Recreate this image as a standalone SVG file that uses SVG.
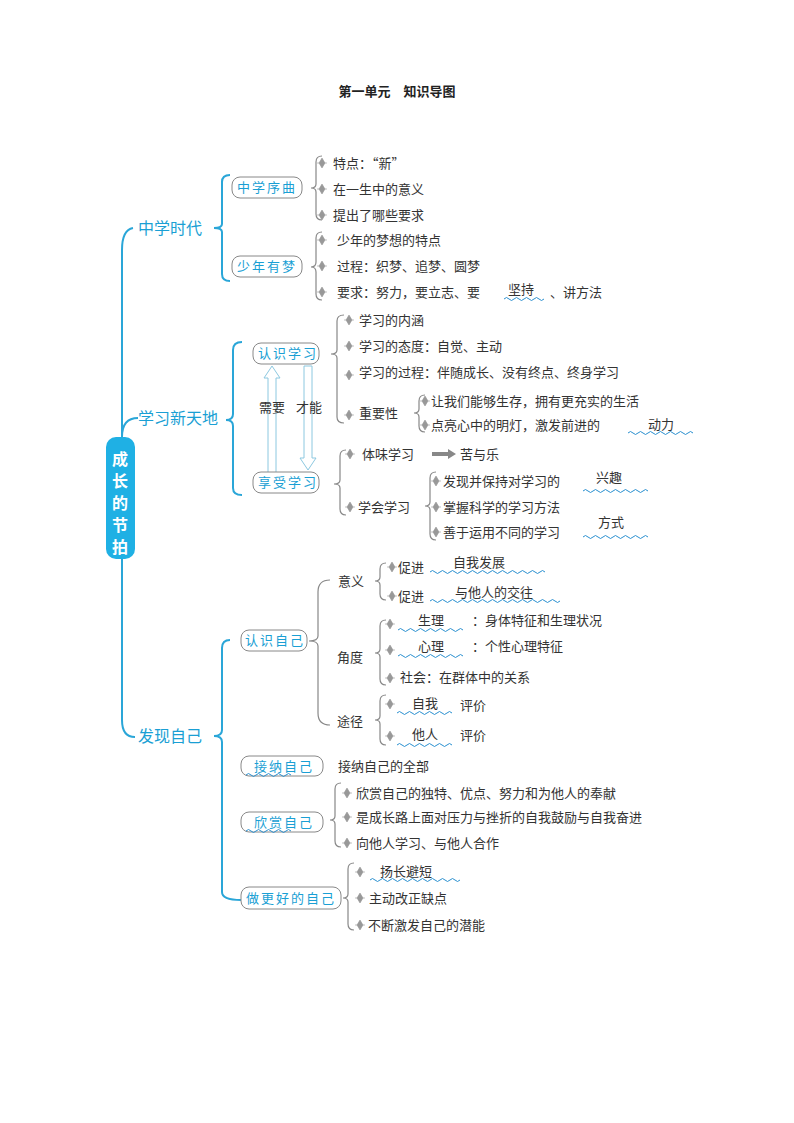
<svg xmlns="http://www.w3.org/2000/svg" width="794" height="1123" viewBox="0 0 794 1123">
<style>
text{font-family:"Noto Sans CJK SC","Noto Sans",sans-serif;font-size:13px;fill:#333}
.m{font-size:16px;fill:#1a9fd4}
.b{font-size:13px;fill:#1a9fd4;letter-spacing:2px}
.c{fill:#fff;font-size:16px;font-weight:bold}
.box{fill:#fff;stroke:#888;stroke-width:1}
.br{fill:none;stroke:#888;stroke-width:1.2}
.bb{fill:none;stroke:#2aa6d8;stroke-width:2}
.w{fill:none;stroke:#2a90d0;stroke-width:1}
</style>
<defs>
<path id="d" d="M0,-5 L3,0 0,5 -3,0Z M-5,0 L5,0" fill="#999" stroke="#999" stroke-width="0.6"/>
</defs>
<rect width="794" height="1123" fill="#fff"/>
<text x="397" y="96" text-anchor="middle" style="font-size:13px;font-weight:bold;fill:#222">第一单元　知识导图</text>

<g id="connectors">
<path class="bb" d="M133,228 Q122,230 122,250 L122,437 M122,437 Q122,418 138,418 M122,559 L122,720 Q122,737 135,737"/>
<path class="bb" d="M230,175 Q222,175 222,182 L222,224 Q222,228 214,228 Q222,228 222,232 L222,274 Q222,281 230,281"/>
<path class="bb" d="M242,342 Q233,342 233,350 L233,414 Q233,420 226,420 Q233,420 233,426 L233,488 Q233,495 242,495"/>
<path class="bb" d="M230,640 Q222,640 222,648 L222,730 Q222,736 214,736 Q222,736 222,742 L222,892 Q222,900 241,900"/>
<g class="br">
<path d="M322,156 Q316,156 316,162 L316,184 Q316,188 311,188 Q316,188 316,192 L316,214 Q316,220 322,220"/>
<path d="M322,232 Q316,232 316,238 L316,262 Q316,267 311,267 Q316,267 316,272 L316,294 Q316,300 322,300"/>
<path d="M344,315 Q337,315 337,321 L337,350 Q337,354 331,354 Q337,354 337,358 L337,417 Q337,423 344,423"/>
<path d="M425,395 Q419,395 419,401 L419,409 Q419,413 414,413 Q419,413 419,417 L419,426 Q419,432 425,432"/>
<path d="M346,450 Q340,450 340,456 L340,480 Q340,484 334,484 Q340,484 340,488 L340,509 Q340,515 346,515"/>
<path d="M436,472 Q430,472 430,478 L430,502 Q430,506 425,506 Q430,506 430,510 L430,534 Q430,540 436,540"/>
<path d="M330,580 Q318,580 318,592 L318,636 Q318,641 309,641 Q318,641 318,646 L318,713 Q318,725 330,725"/>
<path d="M386,563 Q380,563 380,569 L380,577 Q380,581 375,581 Q380,581 380,585 L380,594 Q380,600 386,600"/>
<path d="M386,620 Q380,620 380,626 L380,649 Q380,653 375,653 Q380,653 380,657 L380,679 Q380,685 386,685"/>
<path d="M386,695 Q380,695 380,701 L380,716 Q380,720 375,720 Q380,720 380,724 L380,739 Q380,745 386,745"/>
<path d="M341,783 Q335,783 335,789 L335,816 Q335,820 330,820 Q335,820 335,824 L335,841 Q335,847 341,847"/>
<path d="M354,863 Q348,863 348,869 L348,894 Q348,898 343,898 Q348,898 348,902 L348,924 Q348,930 354,930"/>
</g>
<path d="M268,478 L268,378 L264,378 L272,366 L280,378 L276,378 L276,478Z" fill="#fff" stroke="#8cc8e0" stroke-width="1"/>
<path d="M304,366 L304,458 L300,458 L308,470 L316,458 L312,458 L312,366Z" fill="#fff" stroke="#8cc8e0" stroke-width="1"/>
<path d="M432,452 L448,452 L448,449 L456,454 L448,459 L448,456 L432,456Z" fill="#888"/>
</g>
<text x="259" y="412">需要</text><text x="296" y="412">才能</text>

<g id="center">
<rect x="106" y="437" width="29" height="122" rx="10" fill="#1fb0e4"/>
<text class="c" x="120" y="465" text-anchor="middle">成</text>
<text class="c" x="120" y="487" text-anchor="middle">长</text>
<text class="c" x="120" y="509" text-anchor="middle">的</text>
<text class="c" x="120" y="531" text-anchor="middle">节</text>
<text class="c" x="120" y="553" text-anchor="middle">拍</text>
</g>

<g id="main">
<text class="m" x="138" y="234">中学时代</text>
<text class="m" x="138" y="424">学习新天地</text>
<text class="m" x="138" y="742">发现自己</text>
</g>

<g id="boxes">
<rect class="box" x="232" y="177" width="70" height="21" rx="8"/><text class="b" x="237" y="192">中学序曲</text>
<rect class="box" x="232" y="256" width="70" height="21" rx="8"/><text class="b" x="237" y="271">少年有梦</text>
<rect class="box" x="253" y="343" width="66" height="21" rx="8"/><text class="b" x="258" y="358">认识学习</text>
<rect class="box" x="253" y="472" width="66" height="21" rx="8"/><text class="b" x="258" y="487">享受学习</text>
<rect class="box" x="241" y="630" width="66" height="21" rx="8"/><text class="b" x="245" y="645">认识自己</text>
<rect class="box" x="241" y="756" width="82" height="20" rx="8"/><text class="b" x="254" y="771">接纳自己</text>
<rect class="box" x="241" y="812" width="82" height="20" rx="8"/><text class="b" x="254" y="827">欣赏自己</text>
<rect class="box" x="241" y="887" width="100" height="22" rx="8"/><text class="b" x="246" y="903">做更好的自己</text>
<path class="w" d="M246,775 q2.5,-3 5,0 t5,0 t5,0 t5,0 t5,0 t5,0 t5,0 t5,0 t5,0"/>
<path class="w" d="M246,831 q2.5,-3 5,0 t5,0 t5,0 t5,0 t5,0 t5,0 t5,0 t5,0 t5,0"/>
</g>

<g id="items">
<use href="#d" x="322" y="163"/><text x="333" y="168">特点：“新”</text>
<use href="#d" x="322" y="189"/><text x="333" y="194">在一生中的意义</text>
<use href="#d" x="322" y="215"/><text x="333" y="220">提出了哪些要求</text>
<use href="#d" x="322" y="240"/><text x="337" y="245">少年的梦想的特点</text>
<use href="#d" x="322" y="266"/><text x="337" y="271">过程：织梦、追梦、圆梦</text>
<use href="#d" x="322" y="292"/><text x="337" y="297">要求：努力，要立志、要</text>
<text x="508" y="294">坚持</text><text x="550" y="297">、讲方法</text>
<path class="w" d="M504,299 q2.5,-3 5,0 t5,0 t5,0 t5,0 t5,0 t5,0 t5,0 t5,0"/>

<use href="#d" x="349" y="320"/><text x="359" y="325">学习的内涵</text>
<use href="#d" x="349" y="346"/><text x="359" y="351">学习的态度：自觉、主动</text>
<use href="#d" x="349" y="375"/><text x="359" y="377">学习的过程：伴随成长、没有终点、终身学习</text>
<use href="#d" x="349" y="415"/><text x="359" y="418">重要性</text>
<use href="#d" x="425" y="401"/><text x="431" y="406">让我们能够生存，拥有更充实的生活</text>
<use href="#d" x="425" y="425"/><text x="431" y="430">点亮心中的明灯，激发前进的</text>
<text x="648" y="429">动力</text>
<path class="w" d="M628,433 q2.5,-3 5,0 t5,0 t5,0 t5,0 t5,0 t5,0 t5,0 t5,0 t5,0 t5,0 t5,0 t5,0 t5,0"/>

<use href="#d" x="350" y="454"/><text x="362" y="459">体味学习</text>
<text x="460" y="459">苦与乐</text>
<use href="#d" x="350" y="507"/><text x="358" y="512">学会学习</text>
<use href="#d" x="436" y="481"/><text x="443" y="486">发现并保持对学习的</text>
<text x="596" y="482">兴趣</text>
<path class="w" d="M583,491 q2.5,-3 5,0 t5,0 t5,0 t5,0 t5,0 t5,0 t5,0 t5,0 t5,0 t5,0 t5,0 t5,0 t5,0"/>
<use href="#d" x="436" y="507"/><text x="443" y="512">掌握科学的学习方法</text>
<use href="#d" x="436" y="532"/><text x="443" y="537">善于运用不同的学习</text>
<text x="598" y="527">方式</text>
<path class="w" d="M583,537 q2.5,-3 5,0 t5,0 t5,0 t5,0 t5,0 t5,0 t5,0 t5,0 t5,0 t5,0 t5,0 t5,0 t5,0"/>

<text x="338" y="586">意义</text>
<text x="337" y="662">角度</text>
<text x="337" y="726">途径</text>
<use href="#d" x="392" y="567"/><text x="398" y="572">促进</text>
<text x="453" y="567">自我发展</text>
<path class="w" d="M430,572 q2.5,-3 5,0 t5,0 t5,0 t5,0 t5,0 t5,0 t5,0 t5,0 t5,0 t5,0 t5,0 t5,0 t5,0 t5,0 t5,0 t5,0 t5,0 t5,0 t5,0 t5,0 t5,0 t5,0 t5,0"/>
<use href="#d" x="392" y="596"/><text x="398" y="601">促进</text>
<text x="455" y="597">与他人的交往</text>
<path class="w" d="M430,601 q2.5,-3 5,0 t5,0 t5,0 t5,0 t5,0 t5,0 t5,0 t5,0 t5,0 t5,0 t5,0 t5,0 t5,0 t5,0 t5,0 t5,0 t5,0 t5,0 t5,0 t5,0 t5,0 t5,0 t5,0 t5,0 t5,0 t5,0"/>
<use href="#d" x="390" y="624"/><text x="418" y="625">生理</text><text x="472" y="625">：身体特征和生理状况</text>
<path class="w" d="M398,630 q2.5,-3 5,0 t5,0 t5,0 t5,0 t5,0 t5,0 t5,0 t5,0 t5,0 t5,0 t5,0 t5,0 t5,0"/>
<use href="#d" x="390" y="650"/><text x="418" y="651">心理</text><text x="472" y="651">：个性心理特征</text>
<path class="w" d="M398,656 q2.5,-3 5,0 t5,0 t5,0 t5,0 t5,0 t5,0 t5,0 t5,0 t5,0 t5,0 t5,0 t5,0 t5,0"/>
<use href="#d" x="390" y="678"/><text x="400" y="682">社会：在群体中的关系</text>
<use href="#d" x="390" y="704"/><text x="412" y="708">自我</text><text x="460" y="710">评价</text>
<path class="w" d="M397,713 q2.5,-3 5,0 t5,0 t5,0 t5,0 t5,0 t5,0 t5,0 t5,0 t5,0 t5,0 t5,0"/>
<use href="#d" x="390" y="736"/><text x="412" y="739">他人</text><text x="460" y="740">评价</text>
<path class="w" d="M397,745 q2.5,-3 5,0 t5,0 t5,0 t5,0 t5,0 t5,0 t5,0 t5,0 t5,0 t5,0 t5,0"/>

<text x="338" y="771">接纳自己的全部</text>
<use href="#d" x="347" y="793"/><text x="356" y="798">欣赏自己的独特、优点、努力和为他人的奉献</text>
<use href="#d" x="347" y="817"/><text x="356" y="822">是成长路上面对压力与挫折的自我鼓励与自我奋进</text>
<use href="#d" x="347" y="843"/><text x="356" y="848">向他人学习、与他人合作</text>
<use href="#d" x="360" y="872"/><text x="380" y="876">扬长避短</text>
<path class="w" d="M370,880 q2.5,-3 5,0 t5,0 t5,0 t5,0 t5,0 t5,0 t5,0 t5,0 t5,0 t5,0 t5,0 t5,0 t5,0 t5,0 t5,0 t5,0 t5,0 t5,0"/>
<use href="#d" x="360" y="898"/><text x="369" y="903">主动改正缺点</text>
<use href="#d" x="360" y="925"/><text x="368" y="930">不断激发自己的潜能</text>
</g>
</svg>
